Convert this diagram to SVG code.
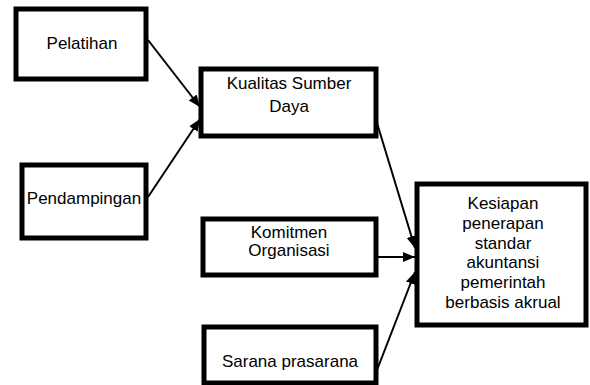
<svg xmlns="http://www.w3.org/2000/svg" width="590" height="385" viewBox="0 0 590 385">
<style>
.box{fill:#fff;stroke:#000;stroke-width:5}
.t{font-family:"Liberation Sans",Arial,sans-serif;font-size:17px;fill:#000;text-anchor:middle}
.c{stroke:#000;stroke-width:2;fill:none;marker-end:url(#ah)}
</style>
<defs>
<marker id="ah" markerWidth="12" markerHeight="12" viewBox="0 0 12 10" refX="12" refY="5" orient="auto" markerUnits="userSpaceOnUse">
<path d="M0,0 L12,5 L0,10 Z" fill="#000"/>
</marker>
</defs>
<rect width="590" height="385" fill="#fff"/>
<g id="connectors">
<line class="c" x1="148" y1="40" x2="200" y2="107"/>
<line class="c" x1="148" y1="197" x2="200" y2="119"/>
<line class="c" x1="377" y1="123" x2="415" y2="248"/>
<line class="c" x1="377" y1="257" x2="415" y2="257"/>
<line class="c" x1="377" y1="370" x2="415" y2="272"/>
</g>
<g id="pelatihan">
<rect class="box" x="16" y="9" width="130" height="70"/>
<text class="t" x="82" y="49">Pelatihan</text>
</g>
<g id="pendampingan">
<rect class="box" x="22" y="165" width="124" height="73"/>
<text class="t" x="84" y="204">Pendampingan</text>
</g>
<g id="kualitas">
<rect class="box" x="201" y="69" width="175" height="67"/>
<text class="t" x="289" y="89">Kualitas Sumber</text>
<text class="t" x="289" y="112">Daya</text>
</g>
<g id="komitmen">
<rect class="box" x="203" y="219" width="173" height="56"/>
<text class="t" x="289" y="238">Komitmen</text>
<text class="t" x="289" y="256">Organisasi</text>
</g>
<g id="sarana">
<rect class="box" x="204" y="327" width="172" height="56"/>
<text class="t" x="290" y="367">Sarana prasarana</text>
</g>
<g id="kesiapan">
<rect class="box" x="417" y="184" width="169" height="141"/>
<text class="t" x="503" y="209">Kesiapan</text>
<text class="t" x="503" y="229">penerapan</text>
<text class="t" x="503" y="249">standar</text>
<text class="t" x="503" y="268">akuntansi</text>
<text class="t" x="503" y="288">pemerintah</text>
<text class="t" x="503" y="308">berbasis akrual</text>
</g>
</svg>
